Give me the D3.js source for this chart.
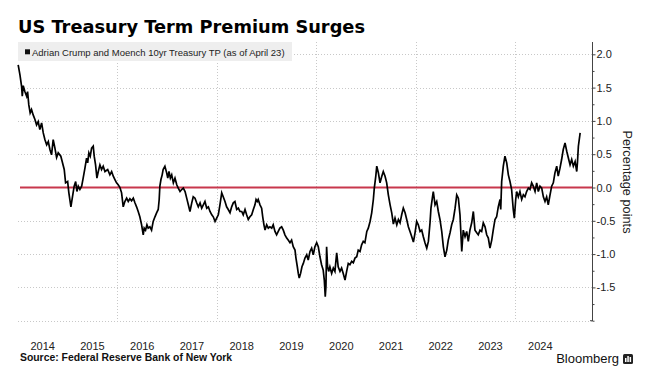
<!DOCTYPE html>
<html><head><meta charset="utf-8">
<script src="https://cdn.jsdelivr.net/npm/d3@7"></script>
<style>body{margin:0;background:#fff}svg{display:block}</style>
</head><body><svg id="c" width="647" height="370"></svg>
<script>
const dates = [
"2014-01-06","2014-01-19","2014-01-31","2014-02-05","2014-02-12","2014-02-24","2014-03-09","2014-03-16","2014-03-25","2014-04-04",
"2014-04-14","2014-04-26","2014-05-09","2014-05-21","2014-06-02","2014-06-14","2014-06-27","2014-07-09","2014-07-21","2014-08-03",
"2014-08-15","2014-08-27","2014-09-08","2014-09-20","2014-10-02","2014-10-15","2014-10-27","2014-11-15","2014-11-25","2014-12-10",
"2014-12-20","2015-01-04","2015-01-13","2015-01-28","2015-02-07","2015-02-21","2015-03-04","2015-03-13","2015-03-23","2015-04-04",
"2015-04-17","2015-04-28","2015-05-11","2015-05-23","2015-05-31","2015-06-09","2015-06-19","2015-06-29","2015-07-11","2015-07-18",
"2015-07-28","2015-08-07","2015-08-17","2015-08-29","2015-09-10","2015-09-22","2015-10-05","2015-10-25","2015-11-10","2015-11-23",
"2015-12-05","2015-12-17","2015-12-29","2016-01-10","2016-01-23","2016-02-04","2016-02-16","2016-02-28","2016-03-12","2016-03-24",
"2016-04-05","2016-04-17","2016-04-30","2016-05-12","2016-05-24","2016-06-05","2016-06-17","2016-06-30","2016-07-12","2016-07-19",
"2016-07-29","2016-08-08","2016-08-17","2016-08-30","2016-09-11","2016-09-23","2016-10-06","2016-10-18","2016-10-30","2016-11-06",
"2016-11-11","2016-11-19","2016-11-28","2016-12-05","2016-12-18","2016-12-31","2017-01-08","2017-01-17","2017-01-27","2017-02-06",
"2017-02-18","2017-03-02","2017-03-15","2017-03-26","2017-04-08","2017-04-20","2017-05-02","2017-05-15","2017-05-27","2017-06-08",
"2017-06-20","2017-07-03","2017-07-14","2017-07-27","2017-08-08","2017-08-20","2017-09-02","2017-09-14","2017-09-26","2017-10-08",
"2017-10-21","2017-11-02","2017-11-14","2017-11-27","2017-12-08","2017-12-21","2018-01-02","2018-01-14","2018-01-26","2018-02-08",
"2018-02-19","2018-03-04","2018-03-16","2018-03-28","2018-04-10","2018-04-22","2018-05-04","2018-05-16","2018-05-29","2018-06-10",
"2018-06-22","2018-07-05","2018-07-16","2018-07-29","2018-08-10","2018-08-22","2018-09-03","2018-09-16","2018-09-28","2018-10-10",
"2018-10-18","2018-10-27","2018-11-03","2018-11-16","2018-11-28","2018-12-06","2018-12-15","2018-12-23","2019-01-04","2019-01-16",
"2019-01-28","2019-02-10","2019-02-21","2019-03-06","2019-03-18","2019-03-30","2019-04-11","2019-04-24","2019-05-06","2019-05-18",
"2019-05-31","2019-06-11","2019-06-24","2019-07-06","2019-07-18","2019-07-31","2019-08-07","2019-08-17","2019-08-24","2019-08-31",
"2019-09-10","2019-09-20","2019-09-30","2019-10-12","2019-10-25","2019-11-05","2019-11-18","2019-11-30","2019-12-12","2019-12-24",
"2020-01-06","2020-01-18","2020-01-30","2020-02-11","2020-02-23","2020-03-02","2020-03-09","2020-03-14","2020-03-19","2020-03-26",
"2020-04-03","2020-04-12","2020-04-25","2020-05-07","2020-05-19","2020-06-01","2020-06-12","2020-06-25","2020-07-07","2020-07-19",
"2020-08-01","2020-08-13","2020-08-25","2020-09-06","2020-09-19","2020-10-01","2020-10-13","2020-10-26","2020-11-06","2020-11-19",
"2020-12-01","2020-12-13","2020-12-25","2021-01-08","2021-01-19","2021-02-01","2021-02-13","2021-02-25","2021-03-04","2021-03-15",
"2021-03-22","2021-04-03","2021-04-15","2021-04-28","2021-05-09","2021-05-22","2021-06-03","2021-06-15","2021-06-28","2021-07-10",
"2021-07-22","2021-08-03","2021-08-16","2021-08-28","2021-09-09","2021-09-21","2021-10-03","2021-10-16","2021-10-28","2021-11-09",
"2021-11-21","2021-12-04","2021-12-16","2021-12-28","2022-01-09","2022-01-21","2022-02-03","2022-02-15","2022-02-27","2022-03-11",
"2022-03-24","2022-04-05","2022-04-17","2022-04-24","2022-05-04","2022-05-11","2022-05-24","2022-06-05","2022-06-17","2022-06-29",
"2022-07-12","2022-07-24","2022-08-05","2022-08-18","2022-08-29","2022-09-11","2022-09-23","2022-10-05","2022-10-18","2022-10-30",
"2022-11-11","2022-11-23","2022-12-06","2022-12-17","2022-12-30","2023-01-11","2023-01-23","2023-02-04","2023-02-17","2023-03-01",
"2023-03-13","2023-03-26","2023-04-06","2023-04-19","2023-05-01","2023-05-13","2023-05-26","2023-06-07","2023-06-19","2023-07-01",
"2023-07-14","2023-07-25","2023-08-07","2023-08-19","2023-08-31","2023-09-13","2023-09-18","2023-09-25","2023-10-07","2023-10-19",
"2023-11-01","2023-11-13","2023-11-25","2023-12-07","2023-12-19","2023-12-27","2024-01-06","2024-01-13","2024-01-25","2024-02-06",
"2024-02-19","2024-03-02","2024-03-14","2024-03-26","2024-04-08","2024-04-20","2024-05-02","2024-05-14","2024-05-27","2024-06-08",
"2024-06-20","2024-07-02","2024-07-15","2024-07-27","2024-08-08","2024-08-20","2024-09-01","2024-09-14","2024-09-26","2024-10-08",
"2024-10-20","2024-11-02","2024-11-13","2024-11-26","2024-12-08","2024-12-20","2025-01-02","2025-01-15","2025-01-27","2025-02-08",
"2025-02-20","2025-03-04","2025-03-17","2025-03-29","2025-04-03","2025-04-10","2025-04-23"
];
const values = [
1.84,1.69,1.52,1.37,1.53,1.44,1.37,1.44,1.24,1.12,
1.17,1.09,1.02,0.94,0.99,0.87,0.97,0.82,0.72,0.64,
0.69,0.57,0.49,0.72,0.60,0.45,0.52,0.47,0.39,0.27,
0.07,0.09,-0.08,-0.29,-0.16,0.02,0.09,-0.06,0.02,-0.03,
0.02,0.14,0.29,0.44,0.37,0.52,0.47,0.59,0.62,0.47,
0.34,0.14,0.24,0.34,0.27,0.32,0.24,0.27,0.19,0.24,
0.17,0.12,0.07,0.04,0.00,-0.08,-0.29,-0.21,-0.16,-0.21,
-0.17,-0.20,-0.16,-0.23,-0.29,-0.36,-0.44,-0.56,-0.71,-0.61,
-0.64,-0.56,-0.61,-0.59,-0.64,-0.51,-0.44,-0.38,-0.33,-0.18,
0.02,0.12,0.19,0.27,0.32,0.22,0.14,0.24,0.14,0.19,
0.07,0.14,0.04,-0.01,-0.06,-0.03,-0.01,-0.06,-0.16,-0.26,
-0.36,-0.23,-0.14,-0.16,-0.23,-0.29,-0.23,-0.31,-0.26,-0.21,
-0.31,-0.29,-0.36,-0.41,-0.44,-0.51,-0.46,-0.41,-0.26,-0.08,
-0.14,-0.21,-0.29,-0.33,-0.38,-0.29,-0.23,-0.21,-0.33,-0.31,
-0.36,-0.36,-0.41,-0.33,-0.41,-0.48,-0.44,-0.41,-0.33,-0.26,
-0.18,-0.21,-0.18,-0.26,-0.31,-0.44,-0.56,-0.64,-0.56,-0.61,
-0.59,-0.61,-0.56,-0.66,-0.71,-0.66,-0.61,-0.59,-0.64,-0.71,
-0.76,-0.79,-0.83,-0.79,-0.89,-0.94,-1.06,-1.19,-1.29,-1.36,
-1.29,-1.19,-1.14,-1.06,-1.01,-1.09,-0.96,-0.91,-1.01,-0.89,
-0.83,-0.89,-1.04,-1.16,-1.24,-1.39,-1.64,-1.49,-0.89,-1.19,
-1.26,-1.19,-1.29,-1.21,-1.26,-0.98,-1.19,-1.26,-1.21,-1.29,
-1.39,-1.26,-1.14,-1.16,-1.11,-1.13,-1.06,-1.04,-0.94,-0.96,
-0.86,-0.81,-0.83,-0.66,-0.61,-0.51,-0.38,-0.18,-0.01,0.17,
0.32,0.22,0.07,0.17,0.24,0.17,0.07,-0.11,-0.26,-0.38,
-0.55,-0.46,-0.56,-0.48,-0.53,-0.41,-0.31,-0.38,-0.48,-0.59,
-0.66,-0.74,-0.82,-0.68,-0.51,-0.56,-0.66,-0.64,-0.74,-0.83,
-0.91,-0.81,-0.53,-0.31,-0.16,-0.06,-0.26,-0.21,-0.36,-0.48,
-0.66,-0.89,-1.04,-0.94,-0.79,-0.68,-0.56,-0.48,-0.31,-0.11,
-0.16,-0.41,-0.96,-0.64,-0.74,-0.66,-0.81,-0.64,-0.53,-0.36,
-0.64,-0.68,-0.71,-0.64,-0.66,-0.53,-0.59,-0.71,-0.76,-0.91,
-0.79,-0.64,-0.48,-0.44,-0.29,-0.18,-0.33,0.09,0.32,0.47,
0.37,0.19,0.09,-0.03,-0.33,-0.46,-0.18,-0.06,-0.14,-0.06,
-0.18,-0.11,-0.14,-0.06,-0.01,-0.03,0.07,0.02,-0.06,0.07,
-0.06,0.02,-0.01,-0.14,-0.21,-0.14,-0.26,-0.11,0.02,0.07,
0.22,0.32,0.17,0.29,0.42,0.57,0.67,0.54,0.44,0.34,
0.42,0.32,0.39,0.24,0.37,0.62,0.82
];
const yearLabels = ["2014","2015","2016","2017","2018","2019","2020","2021","2022","2023","2024"];
const gridYears = ["2016","2018","2020","2022","2024"];
const yTicks = [-1.5,-1.0,-0.5,0.0,0.5,1.0,1.5,2.0];
const yMinorTicks = [-1.75,-1.25,-0.75,-0.25,0.25,0.75,1.25,1.75];
const yGrid = [-2.0,-1.5,-1.0,-0.5,0.5,1.0,1.5,2.0];

const title = "US Treasury Term Premium Surges";
const legendLabel = "Adrian Crump and Moench 10yr Treasury TP (as of April 23)";
const yAxisTitle = "Percentage points";
const source = "Source: Federal Reserve Bank of New York";

const parse = d3.timeParse("%Y-%m-%d");
const data = dates.map((d, i) => ({date: parse(d), value: values[i]}));

const svg = d3.select("#c");
const x = d3.scaleTime().domain([new Date(2014,0,1), new Date(2025,6,19)]).range([17.5, 592]);
const y = d3.scaleLinear().domain([-2, 2]).range([320.7, 54.3]);
const plotL = 18, plotR = 592, plotT = 42, plotB = 320.7;
const font = "Liberation Sans, Arial, sans-serif";

// horizontal grid
svg.append("g").selectAll("line").data(yGrid).join("line")
  .attr("x1", plotL).attr("x2", plotR)
  .attr("y1", d => Math.round(y(d)) + 0.5).attr("y2", d => Math.round(y(d)) + 0.5)
  .attr("stroke", "#c8c8c8").attr("stroke-width", 1).attr("stroke-dasharray", "1,2");
// vertical grid
svg.append("g").selectAll("line").data(gridYears).join("line")
  .attr("x1", d => Math.round(x(new Date(+d,0,1))) + 0.5).attr("x2", d => Math.round(x(new Date(+d,0,1))) + 0.5)
  .attr("y1", plotT).attr("y2", plotB)
  .attr("stroke", "#c8c8c8").attr("stroke-width", 1).attr("stroke-dasharray", "1,2");

// zero line
svg.append("line").attr("x1", 20).attr("x2", plotR).attr("y1", y(0)).attr("y2", y(0))
  .attr("stroke", "#c8374c").attr("stroke-width", 2);

// series
svg.append("path").datum(data)
  .attr("fill", "none").attr("stroke", "#000").attr("stroke-width", 1.7).attr("stroke-linejoin", "miter")
  .attr("d", d3.line().x(d => x(d.date)).y(d => y(d.value)));

// right axis
svg.append("line").attr("x1", plotR + 0.5).attr("x2", plotR + 0.5).attr("y1", plotT).attr("y2", plotB + 0.5)
  .attr("stroke", "#444").attr("stroke-width", 1);
const ax = svg.append("g").attr("transform", `translate(${plotR + 0.5},0)`)
  .call(d3.axisRight(y).tickValues(yTicks).tickSize(3).tickPadding(1).tickFormat(d => d.toFixed(1)));
ax.select(".domain").remove();
ax.selectAll("line").attr("stroke", "#444");
ax.selectAll("text").attr("font-family", font).attr("font-size", 11).attr("fill", "#222");
const axm = svg.append("g").attr("transform", `translate(${plotR + 0.5},0)`)
  .call(d3.axisRight(y).tickValues(yMinorTicks.concat([-2])).tickSize(2).tickFormat(""));
axm.select(".domain").remove();
axm.selectAll("line").attr("stroke", "#444");
svg.append("line").attr("x1", plotR - 2).attr("x2", plotR).attr("y1", plotB).attr("y2", plotB).attr("stroke", "#444");

svg.append("text").attr("transform", `translate(623,182) rotate(90)`)
  .attr("text-anchor", "middle").attr("font-family", font)
  .attr("font-size", 12.8).attr("fill", "#222").text(yAxisTitle);

// bottom axis (year labels)
const bx = svg.append("g").attr("transform", `translate(0,${plotB})`)
  .call(d3.axisBottom(x).tickValues(yearLabels.map(d => new Date(+d,6,1))).tickSize(0).tickPadding(21.5)
    .tickFormat(d3.timeFormat("%Y")));
bx.select(".domain").remove();
bx.selectAll("text").attr("font-family", font).attr("font-size", 11).attr("fill", "#222");

// legend
svg.append("rect").attr("x", 18).attr("y", 42).attr("width", 274).attr("height", 19).attr("fill", "#eeeeee");
svg.append("rect").attr("x", 25).attr("y", 49.3).attr("width", 5).attr("height", 5).attr("fill", "#111");
svg.append("text").attr("x", 32).attr("y", 55.5).attr("font-family", font)
  .attr("font-size", 9.5).attr("fill", "#222").text(legendLabel);

// title
svg.append("text").attr("x", 18).attr("y", 33.3).attr("font-family", "DejaVu Sans, sans-serif")
  .attr("font-weight", "bold").attr("font-size", 17.8).attr("fill", "#000").text(title);

// footer
svg.append("text").attr("x", 20).attr("y", 361).attr("font-family", font)
  .attr("font-weight", "bold").attr("font-size", 10.4).attr("fill", "#111").text(source);
svg.append("text").attr("x", 619).attr("y", 363).attr("text-anchor", "end").attr("font-family", font)
  .attr("font-size", 13).attr("fill", "#111").text("Bloomberg");
const logo = svg.append("g").attr("transform", "translate(623,354)");
logo.append("rect").attr("width", 10).attr("height", 10).attr("rx", 1.5).attr("fill", "#222");
logo.append("rect").attr("x", 2).attr("y", 4).attr("width", 1.5).attr("height", 4).attr("fill", "#fff");
logo.append("rect").attr("x", 4.3).attr("y", 2).attr("width", 1.5).attr("height", 6).attr("fill", "#fff");
logo.append("rect").attr("x", 6.6).attr("y", 3).attr("width", 1.5).attr("height", 5).attr("fill", "#fff");
</script>
</body></html>
